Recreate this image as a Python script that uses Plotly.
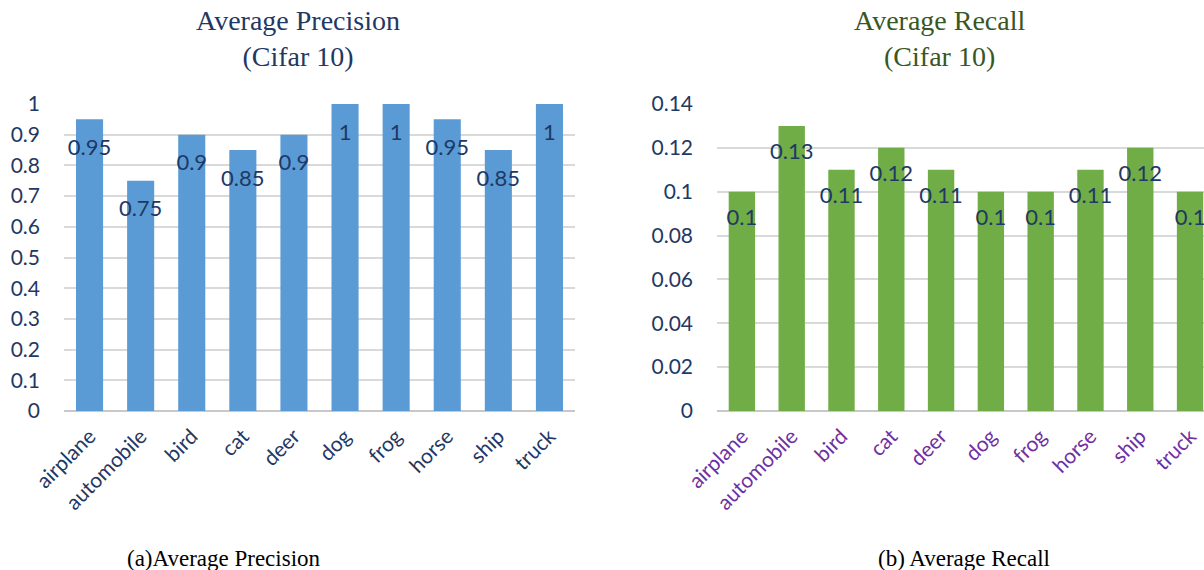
import plotly.graph_objects as go

categories = ["airplane", "automobile", "bird", "cat", "deer", "dog", "frog", "horse", "ship", "truck"]
precision = [0.95, 0.75, 0.9, 0.85, 0.9, 1, 1, 0.95, 0.85, 1]
recall = [0.1, 0.13, 0.11, 0.12, 0.11, 0.1, 0.1, 0.11, 0.12, 0.1]
prec_ticks = [0, 0.1, 0.2, 0.3, 0.4, 0.5, 0.6, 0.7, 0.8, 0.9, 1]
rec_ticks = [0, 0.02, 0.04, 0.06, 0.08, 0.1, 0.12, 0.14]

NAVY = "#1F3864"
PURPLE = "#7030A0"
GREEN_T = "#385723"
BLUE = "#5B9BD5"
GREEN = "#70AD47"
FONT = "Lato, Calibri, sans-serif"
SERIF = "Liberation Serif, Times New Roman, serif"

W, H = 1204, 570
y_bot, y_top = 411, 104
ydom = [1 - y_bot / H, 1 - y_top / H]

fig = go.Figure()

fig.add_trace(go.Bar(x=categories, y=precision, marker=dict(color=BLUE, line=dict(width=0)),
                     width=0.53, xaxis="x", yaxis="y", hoverinfo="skip"))
fig.add_trace(go.Bar(x=categories, y=recall, marker=dict(color=GREEN, line=dict(width=0)),
                     width=0.53, xaxis="x2", yaxis="y2", hoverinfo="skip"))

# data labels placed a fixed pixel distance below bar tops
px_per_unit_l = (y_bot - y_top) / 1.0
px_per_unit_r = (y_bot - y_top) / 0.14
fig.add_trace(go.Scatter(x=categories, y=[v - 30 / px_per_unit_l for v in precision],
                         text=[f"{v:g}" for v in precision], mode="text",
                         textfont=dict(family=FONT, size=22, color=NAVY),
                         xaxis="x", yaxis="y", hoverinfo="skip", cliponaxis=False))
fig.add_trace(go.Scatter(x=categories, y=[v - 28 / px_per_unit_r for v in recall],
                         text=[f"{v:g}" for v in recall], mode="text",
                         textfont=dict(family=FONT, size=22, color=NAVY),
                         xaxis="x2", yaxis="y2", hoverinfo="skip", cliponaxis=False))

common_x = dict(showgrid=False, showline=False, ticks="", tickangle=-45,
                type="category", zeroline=False, automargin=False, ticklabelstandoff=8)
common_y = dict(showgrid=True, gridcolor="#D9D9D9", gridwidth=1.5, zeroline=True,
                zerolinecolor="#C8C8C8", zerolinewidth=2, showline=False, ticks="",
                automargin=False,
                tickfont=dict(family=FONT, size=21, color=NAVY), ticklabelstandoff=23)

fig.update_layout(
    width=W, height=H,
    margin=dict(l=0, r=0, t=0, b=0, autoexpand=False),
    paper_bgcolor="white", plot_bgcolor="white",
    showlegend=False,
    xaxis=dict(domain=[64 / W, 575 / W], range=[-0.5, 9.5], anchor="y",
               tickfont=dict(family=FONT, size=21, color=NAVY), **common_x),
    yaxis=dict(domain=ydom, range=[0, 1.0], tickvals=prec_ticks,
               ticktext=[f"{t:g}" for t in prec_ticks], anchor="x", **common_y),
    xaxis2=dict(domain=[717 / W, 1.0], range=[-0.5, 9.28], anchor="y2",
                tickfont=dict(family=FONT, size=21, color=PURPLE), **common_x),
    yaxis2=dict(domain=ydom, range=[0, 0.14], tickvals=rec_ticks,
                ticktext=[f"{t:g}" for t in rec_ticks], anchor="x2", **common_y),
    annotations=[
        dict(text="Average Precision<br>(Cifar 10)", x=298 / W, y=1 - 39 / H, xref="paper", yref="paper",
             xanchor="center", yanchor="middle", showarrow=False,
             font=dict(family=SERIF, size=28, color=NAVY)),
        dict(text="Average Recall<br>(Cifar 10)", x=939 / W, y=1 - 39 / H, xref="paper", yref="paper",
             xanchor="center", yanchor="middle", showarrow=False,
             font=dict(family=SERIF, size=28, color=GREEN_T)),
        dict(text="(a)Average Precision", x=224 / W, y=1 - 558 / H, xref="paper", yref="paper",
             xanchor="center", yanchor="middle", showarrow=False,
             font=dict(family=SERIF, size=23, color="black")),
        dict(text="(b) Average Recall", x=964 / W, y=1 - 558 / H, xref="paper", yref="paper",
             xanchor="center", yanchor="middle", showarrow=False,
             font=dict(family=SERIF, size=23, color="black")),
    ],
)

fig.write_html("out.html")
